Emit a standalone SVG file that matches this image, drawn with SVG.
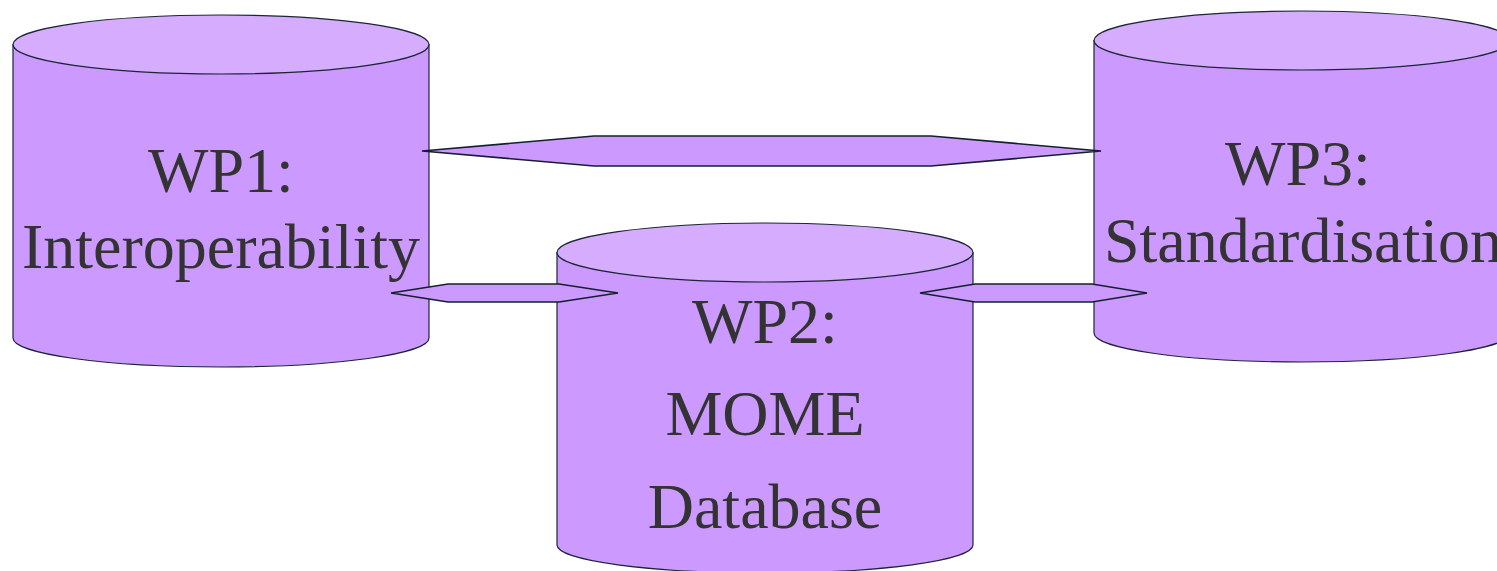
<svg xmlns="http://www.w3.org/2000/svg" width="1497" height="571" viewBox="0 0 1497 571">
<style>
.body{fill:#CC99FF;stroke:#1b2535;stroke-width:1.2}
.top{fill:#D6ACFF;stroke:#1b2535;stroke-width:1.2}
.lbl{font-family:"Liberation Serif","Times New Roman",serif;font-size:64px;fill:#333333;text-anchor:middle}
.arrow{fill:#CC99FF;stroke:#14202e;stroke-width:1.6;stroke-linejoin:miter}
</style>
<rect width="1497" height="571" fill="#ffffff"/>
<g id="wp1">
<path class="body" d="M13,44.5 L13,338 A208,29 0 0 0 429,338 L429,44.5 Z"/>
<ellipse class="top" cx="221" cy="44.5" rx="208" ry="29.5"/>
<text class="lbl" x="221" y="192">WP1:</text>
<text class="lbl" x="221" y="268">Interoperability</text>
</g>
<g id="wp3">
<path class="body" d="M1094,40.5 L1094,333 A208,29 0 0 0 1510,333 L1510,40.5 Z"/>
<ellipse class="top" cx="1302" cy="40.5" rx="208" ry="29.5"/>
<text class="lbl" x="1298" y="185">WP3:</text>
<text class="lbl" x="1303" y="262">Standardisation</text>
</g>
<g id="wp2">
<path class="body" d="M557,252.5 L557,545 A208,28 0 0 0 973,545 L973,252.5 Z"/>
<ellipse class="top" cx="765" cy="252.5" rx="208" ry="29.5"/>
<text class="lbl" x="765" y="343">WP2:</text>
<text class="lbl" x="765" y="435">MOME</text>
<text class="lbl" x="765" y="528">Database</text>
</g>
<g id="connectors">
<polygon class="arrow" points="422,151 594,136 931,136 1101,151 931,166 594,166"/>
<polygon class="arrow" points="391,293 448,284 559,284 618,293 559,302 448,302"/>
<polygon class="arrow" points="920,293 975,284 1092,284 1147,293 1092,302 975,302"/>
</g>
</svg>
